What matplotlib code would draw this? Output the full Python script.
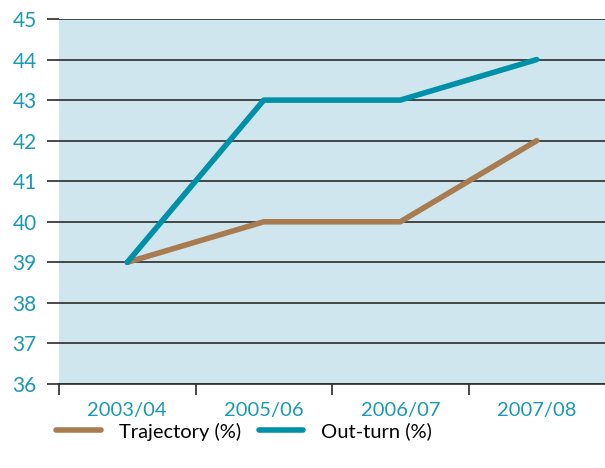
import numpy as np
import matplotlib.pyplot as plt
from matplotlib.lines import Line2D

years = ["2003/04", "2005/06", "2006/07", "2007/08"]
trajectory = [39, 40, 40, 42]
outturn = [39, 43, 43, 44]

teal = "#0090a8"
brown = "#a87b50"
label_col = "#1a9ab2"
grid_col = "#2b2b2b"

plt.rcParams["font.family"] = ["Lato", "DejaVu Sans"]

fig = plt.figure(figsize=(6.05, 4.68), dpi=100)
ax = fig.add_axes([59 / 605, 84 / 468, 546 / 605, 365 / 468])
ax.set_facecolor("#cfe6ee")

x = np.arange(len(years)) + 0.5
ax.plot(x, trajectory, color=brown, lw=4, solid_capstyle="round", solid_joinstyle="round", zorder=3)
ax.plot(x, outturn, color=teal, lw=4, solid_capstyle="round", solid_joinstyle="round", zorder=3)

ax.set_xlim(0, 4)
ax.set_ylim(36, 45)
ax.set_yticks(range(36, 46))
ax.set_xticks(range(0, 4))
ax.set_xticklabels([])
ax.set_xticks(x, minor=True)
ax.set_xticklabels(years, minor=True)

ax.yaxis.grid(True, color=grid_col, lw=1.2)
ax.set_axisbelow(True)
for s in ["top", "right", "left"]:
    ax.spines[s].set_visible(False)
ax.spines["bottom"].set_color(grid_col)
ax.spines["bottom"].set_linewidth(1.2)

ax.tick_params(axis="y", length=9, width=1.2, color=grid_col, labelcolor=label_col,
               labelsize=15, pad=7)
ax.tick_params(axis="x", which="major", length=8, width=1.2, color=grid_col, direction="out")
ax.tick_params(axis="x", which="minor", length=0, labelcolor=label_col, labelsize=14.5, pad=13)

handles = [Line2D([], [], color=brown, lw=4, solid_capstyle="round"),
           Line2D([], [], color=teal, lw=4, solid_capstyle="round")]
fig.legend(handles, ["Trajectory (%)", "Out-turn (%)"], loc="lower left",
           bbox_to_anchor=(0.063, 0.02), ncol=2, frameon=False, fontsize=14.5,
           handlelength=2.2, columnspacing=0.9, handletextpad=0.9)

fig.savefig("out.png", dpi=100)
